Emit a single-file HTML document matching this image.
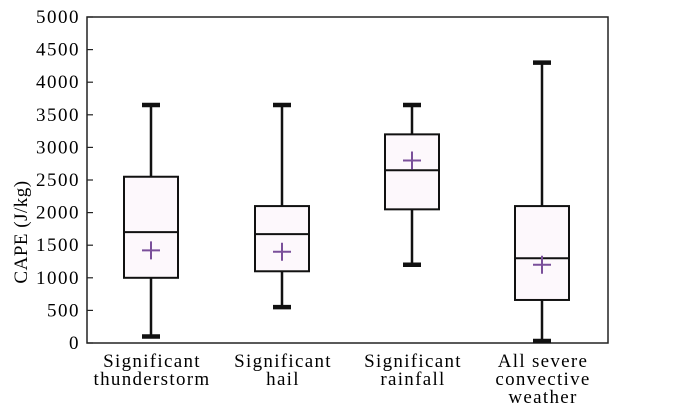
<!DOCTYPE html>
<html><head><meta charset="utf-8"><style>
body{margin:0;background:#fff;}
svg{display:block;font-family:"Liberation Serif",serif;}
</style></head><body>
<svg id="chart" width="700" height="408">
<rect x="87" y="17" width="521" height="326" fill="none" stroke="#222" stroke-width="1.5"/>
<g id="yaxis"></g>
<g id="boxes"></g>
<g id="xlabels"></g>
<text x="27" y="232" font-size="19" letter-spacing="0.5" text-anchor="middle" transform="rotate(-90 27 232)">CAPE (J/kg)</text>
</svg>
<script>
const categories=[["Significant","thunderstorm"],["Significant","hail"],["Significant","rainfall"],["All  severe","convective","weather"]];
const whiskerLow=[100,550,1200,30];
const q1=[1000,1100,2050,660];
const median=[1700,1670,2650,1300];
const q3=[2550,2100,3200,2100];
const whiskerHigh=[3650,3650,3650,4300];
const means=[1420,1400,2800,1200];
const yTicks=[0,500,1000,1500,2000,2500,3000,3500,4000,4500,5000];
const centers=[151,282,412,542];
const NS="http://www.w3.org/2000/svg";
function y(v){return 343-v*326/5000;}
function mk(tag,attrs,parent){const e=document.createElementNS(NS,tag);for(const k in attrs)e.setAttribute(k,attrs[k]);parent.appendChild(e);return e;}
const ya=document.getElementById('yaxis');
yTicks.forEach(t=>{
  const l=mk('line',{x1:87,x2:93,y1:y(t),y2:y(t),stroke:'#222','stroke-width':1.2},ya);
  
  
  const tx=mk('text',{x:80,y:y(t)+6,'font-size':19,'letter-spacing':1.5,'text-anchor':'end'},ya);
  tx.textContent=t;
  
  
});
const bx=document.getElementById('boxes');
const hw=27;
categories.forEach((c,i)=>{
  const cx=centers[i];
  const g=mk('g',{},bx);
  
  
  mk('line',{x1:cx,x2:cx,y1:y(whiskerLow[i]),y2:y(whiskerHigh[i]),stroke:'#111','stroke-width':2.5},g);
  mk('rect',{x:cx-hw,y:y(q3[i]),width:2*hw,height:y(q1[i])-y(q3[i]),fill:'#fdf8fc',stroke:'#111','stroke-width':2},g);
  mk('line',{x1:cx-hw,x2:cx+hw,y1:y(median[i]),y2:y(median[i]),stroke:'#111','stroke-width':2},g);
  mk('line',{x1:cx-9,x2:cx+9,y1:y(whiskerLow[i]),y2:y(whiskerLow[i]),stroke:'#111','stroke-width':4.5},g);
  mk('line',{x1:cx-9,x2:cx+9,y1:y(whiskerHigh[i]),y2:y(whiskerHigh[i]),stroke:'#111','stroke-width':4.5},g);
  const m=y(means[i]);
  mk('path',{d:`M${cx-9},${m}H${cx+9}M${cx},${m-9}V${m+9}`,stroke:'#7a4f9a','stroke-width':2,fill:'none'},g);
  c.forEach((s,j)=>{
    const t=mk('text',{x:cx+1,y:367+j*18,'font-size':19,'letter-spacing':1.3,'text-anchor':'middle'},document.getElementById('xlabels'));
    t.textContent=s;
    
    
  });
});
</script>
</body></html>
